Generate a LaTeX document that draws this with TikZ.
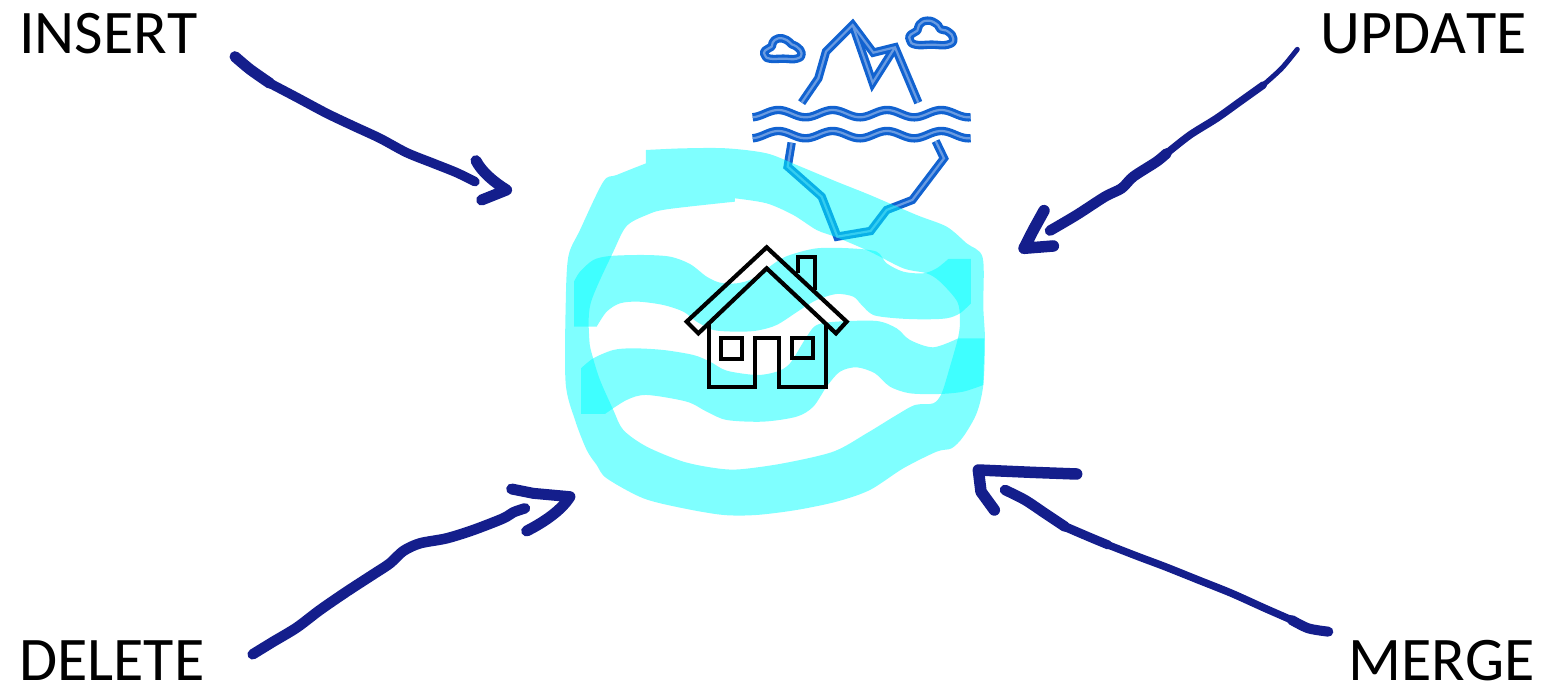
\documentclass[tikz,border=0pt]{standalone}
\usepackage{fontspec}
\setmainfont[Kerning=Off]{Carlito}
\definecolor{marker}{RGB}{0,255,255}
\definecolor{iceblue}{RGB}{17,98,208}
\definecolor{icecore}{RGB}{105,155,225}
\definecolor{inkblue}{RGB}{20,30,140}
\tikzset{
  label/.style={inner sep=0pt,anchor=base west,font=\fontsize{62}{70}\selectfont},
  traced/.style={x=0.3333pt,y=-0.3333pt},
  marked/.style={fill=marker,fill opacity=0.5},
  ink/.style={draw=inkblue,line cap=round,line join=round},
}
\begin{document}
\begin{tikzpicture}[x=1pt,y=-1pt,line join=round]
  \useasboundingbox (0,0) rectangle (1545,688);
  % iceberg icon, under the marker strokes
  \begin{scope}[shift={(740,10)},traced]
    \foreach \w/\c in {8.4/iceblue,2.2/icecore}{
      \draw[line width=\w pt,draw=\c,line join=miter] (185,278)--(235,205)--(258,125)--(338,45)--(400,128)--(465,112)--(535,278);
      \draw[line width=\w pt,draw=\c,line join=miter] (338,45)--(398,218)--(465,112);
      \draw[line width=\w pt,draw=\c,line join=miter] (155,398)--(143,470)--(245,560)--(292,680)--(392,663)--(440,600)--(517,570)--(612,445)--(587,393);
      % clouds
      \draw[line width=\w pt,draw=\c] plot[smooth cycle,tension=0.9] coordinates {(527,104)(575,104)(623,104)(640,86)(623,64)(602,58)(590,42)(562,32)(538,44)(532,62)(512,74)(510,90)};
      \draw[line width=\w pt,draw=\c] plot[smooth cycle,tension=0.9] coordinates {(90,146)(130,146)(170,146)(185,130)(170,110)(155,103)(140,90)(115,85)(98,98)(95,110)(75,122)(75,136)};
      % water lines
      \foreach \yy in {311,374}{
        \draw[line width=\w pt,draw=\c] plot[domain=38:692,samples=90] (\x,{\yy-11*cos(2.2086*(\x-115))});
      }
    }
  \end{scope}
  % marker strokes
  \begin{scope}[shift={(550,140)},traced]
    % big loop: outer edge, then inner edge
    \fill[marked,even odd rule] (288,30) -- plot[smooth,tension=0.5] coordinates {(288,30)(400,25)(530,25)(650,40)(740,75)(860,125)(960,165)(1100,225)(1190,260)(1250,310)(1298,352)(1300,500)(1305,600)(1300,735)(1280,820)(1240,890)(1205,925)(1160,935)(1060,985)(960,1050)(860,1085)(740,1110)(620,1125)(520,1125)(400,1105)(280,1075)(170,1015)(140,975)(110,930)(75,840)(47,730)(47,500)(55,350)(90,270)(160,125)(200,105)(288,70)} -- cycle
      (555,175) -- plot[smooth,tension=0.5] coordinates {(555,175)(650,190)(730,225)(800,270)(860,292)(960,335)(1060,385)(1130,400)(1170,425)(1222,485)(1230,540)(1225,590)(1200,680)(1175,760)(1150,790)(1095,795)(1040,825)(950,880)(850,935)(700,970)(570,988)(500,985)(400,965)(290,920)(220,870)(190,810)(150,720)(128,650)(118,600)(122,490)(190,335)(230,258)(290,225)(350,208)(555,185)} -- cycle;
    % upper wave
    \fill[marked] (72,425) -- plot[smooth,tension=0.5] coordinates {(72,425)(90,395)(130,360)(180,348)(280,345)(360,350)(420,372)(470,410)(510,428)(560,430)(610,415)(680,365)(720,345)(800,325)(900,325)(980,335)(1010,370)(1060,395)(1120,400)(1160,385)(1195,357)} -- (1263,357) -- (1263,490) -- plot[smooth,tension=0.5] coordinates {(1263,490)(1230,520)(1190,535)(1120,538)(1040,535)(970,525)(935,495)(910,470)(860,462)(800,480)(750,510)(680,555)(620,572)(560,575)(490,570)(440,545)(400,515)(340,495)(265,485)(210,490)(170,515)(140,560)} -- (72,560) -- cycle;
    % lower wave
    \fill[marked] (93,685) -- plot[smooth,tension=0.5] coordinates {(93,685)(130,655)(190,630)(250,625)(340,630)(430,645)(480,665)(530,692)(620,705)(680,695)(720,670)(770,590)(800,555)(860,545)(980,543)(1040,565)(1080,600)(1150,622)(1225,595)} -- (1303,595) -- (1300,735) -- plot[smooth,tension=0.5] coordinates {(1300,735)(1240,755)(1170,762)(1080,760)(1020,740)(975,700)(920,682)(870,695)(830,740)(790,800)(740,830)(640,845)(530,840)(470,815)(410,785)(290,765)(230,780)(165,822)} -- (93,822) -- cycle;
  \end{scope}
  % house
  \begin{scope}[shift={(680,240)},traced,line width=4.2pt,line join=miter]
    \draw (20,245)--(260,22)--(500,245)--(468,280)--(260,85)--(55,280)--cycle;
    \draw (88,248)--(88,442)--(225,442)--(225,295)--(298,295)--(298,442)--(437,442)--(437,248);
    \draw (122,295) rectangle (187,358);
    \draw (337,295) rectangle (400,355);
    \draw (355,100)--(355,52)--(405,52)--(405,150);
  \end{scope}
  % insert arrow
  \begin{scope}[shift={(220,40)},traced]
    \draw[ink,line width=11pt] plot[smooth] coordinates {(45,50)(90,88)(150,130)};
    \draw[ink,line width=9.5pt] plot[smooth] coordinates {(150,130)(230,172)(320,220)(400,258)(480,295)(560,338)(640,370)(710,398)(765,425)};
    \draw[ink,line width=11pt] (768,362) .. controls (785,395) and (820,425) .. (860,450) -- (785,480);
  \end{scope}
  % update arrow
  \begin{scope}[shift={(1010,40)},traced]
    \draw[ink,line width=5pt] plot[smooth] coordinates {(862,28)(815,85)(760,135)};
    \draw[ink,line width=7.5pt] plot[smooth] coordinates {(760,135)(690,185)(620,235)(540,285)(470,340)};
    \draw[ink,line width=10.5pt] plot[smooth] coordinates {(470,340)(440,365)(370,410)(335,445)(285,470)(200,525)(120,572)};
    \draw[ink,line width=11.5pt] (102,512) -- (70,570) -- (42,625) -- (130,618);
  \end{scope}
  % delete arrow
  \begin{scope}[shift={(240,475)},traced]
    \draw[ink,line width=10.5pt] plot[smooth] coordinates {(38,538)(100,500)(170,458)(240,405)(320,350)(400,298)(450,265)(490,228)(540,205)(620,190)(700,165)(790,130)(820,112)(855,100)};
    \draw[ink,line width=11pt] (815,42) -- (880,55) -- (990,65) .. controls (965,105) and (915,140) .. (860,168);
  \end{scope}
  % merge arrow
  \begin{scope}[shift={(965,455)},traced]
    \draw[ink,line width=10.5pt] plot[smooth] coordinates {(120,105)(180,135)(240,175)(300,215)};
    \draw[ink,line width=9pt] plot[smooth] coordinates {(300,215)(370,245)(430,270)};
    \draw[ink,line width=7.5pt] plot[smooth] coordinates {(430,270)(520,305)(600,335)(700,375)(800,415)(900,460)(980,495)};
    \draw[ink,line width=10pt] plot[smooth] coordinates {(980,495)(1030,520)(1090,530)};
    \draw[ink,line width=11.5pt] (335,57) -- (200,52) -- (40,45) -- (48,110) -- (88,165);
  \end{scope}
  % labels
  \node[label] (insert) at (19,53) {INSERT};
  \node[label] (update) at (1320,53) {UPDATE};
  \node[label] (delete) at (19,680) {DELETE};
  \node[label] (merge) at (1348,680) {MERGE};
\end{tikzpicture}
\end{document}
